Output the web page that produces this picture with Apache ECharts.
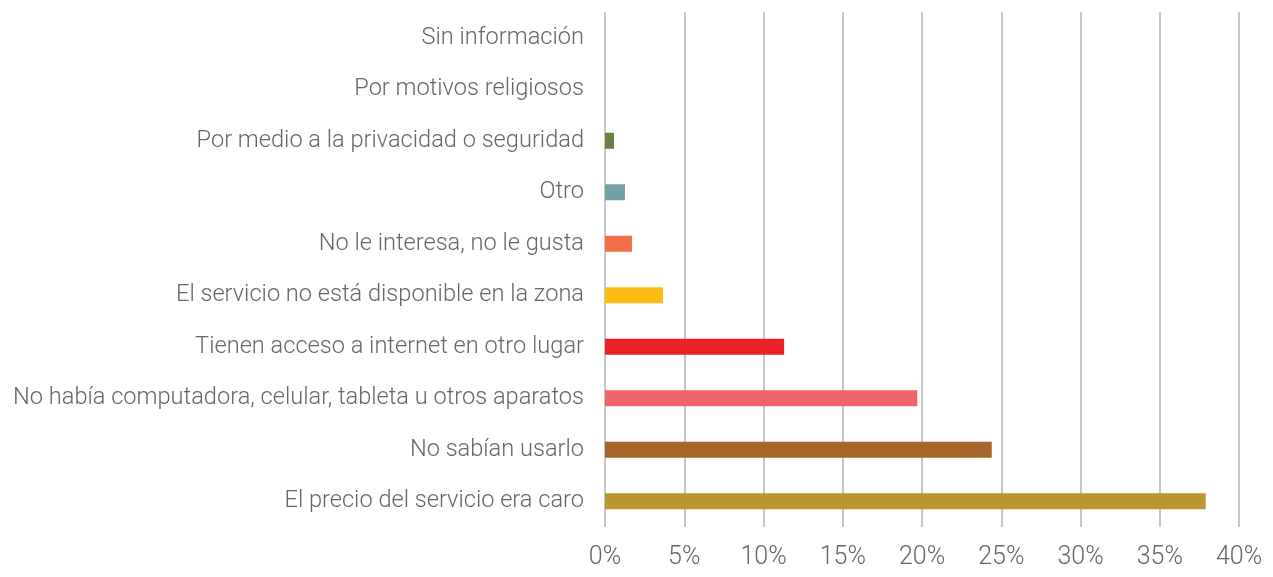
<!DOCTYPE html>
<html><head><meta charset="utf-8">
<script src="https://cdn.jsdelivr.net/npm/echarts@6/dist/echarts.min.js"></script>
<style>html,body{margin:0;padding:0;background:#fff}#c{width:1273px;height:577px}</style>
</head><body><div id="c"></div>
<script>
const categories = [
  "El precio del servicio era caro",
  "No sabían usarlo",
  "No había computadora, celular, tableta u otros aparatos",
  "Tienen acceso a internet en otro lugar",
  "El servicio no está disponible en la zona",
  "No le interesa, no le gusta",
  "Otro",
  "Por medio a la privacidad o seguridad",
  "Por motivos religiosos",
  "Sin información"
];
const values = [37.9, 24.4, 19.7, 11.3, 3.66, 1.7, 1.26, 0.57, 0, 0];
const colors = ["#BC9630","#A56629","#EF636B","#EC2027","#FDBC13","#F26F47","#74A1A8","#6A8244","#888888","#888888"];
const xTicks = [0,5,10,15,20,25,30,35,40];

const FONT = 'Roboto, "Liberation Sans", sans-serif';
const chart = echarts.init(document.getElementById('c'), null, {renderer:'canvas'});
chart.setOption({
  animation:false,
  grid:{left:605, right:34, top:12, bottom:50, outerBoundsMode:'none', containLabel:false},
  xAxis:{type:'value', min:xTicks[0], max:xTicks[xTicks.length-1], interval:5,
    axisLine:{show:false}, axisTick:{show:false},
    splitLine:{show:true, lineStyle:{color:'#C6C6C6', width:2}},
    axisLabel:{formatter:v=>v+'%', color:'#666666', fontFamily:FONT, fontWeight:300, fontSize:25, margin:18}
  },
  yAxis:{type:'category', data:categories,
    axisLine:{show:false}, axisTick:{show:false},
    axisLabel:{color:'#666666', fontFamily:FONT, fontWeight:300, fontSize:23.6, margin:21}
  },
  series:[{type:'bar', data:values.map((v,i)=>({value:v, itemStyle:{color:colors[i]}})), barWidth:16}]
});
</script></body></html>
